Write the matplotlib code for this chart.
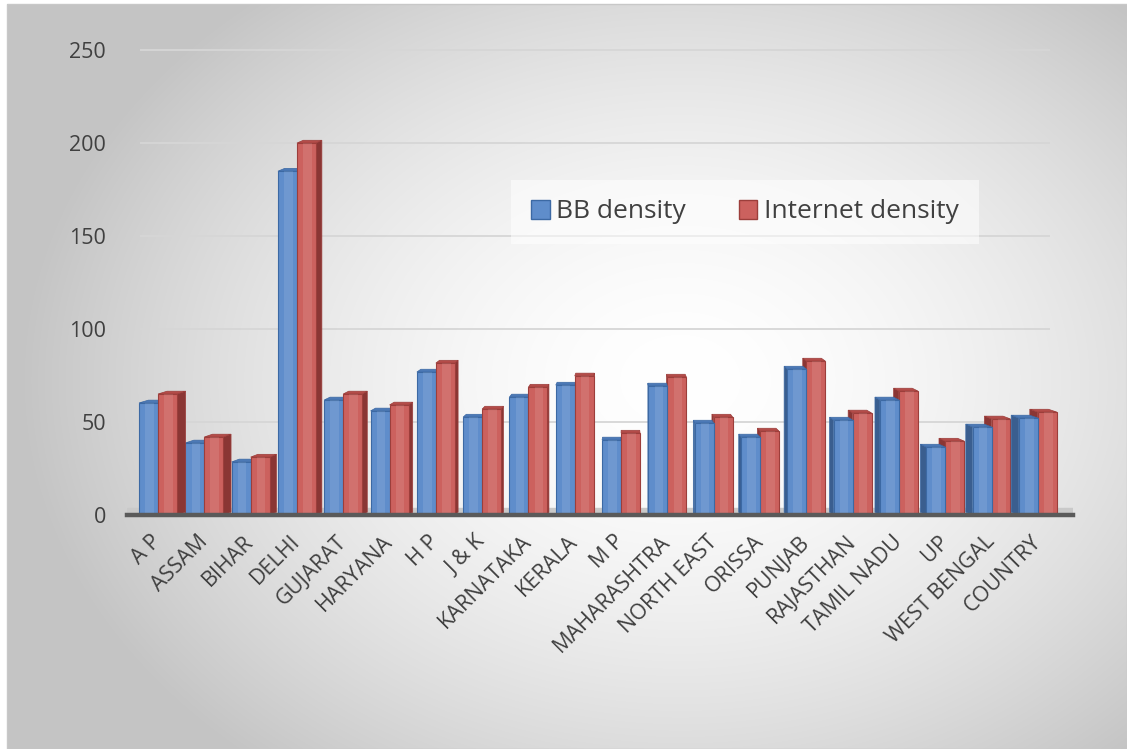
"""
BB density vs Internet density by circle, drawn as Excel-style 3D columns
"""

import numpy as np
import matplotlib.pyplot as plt
from matplotlib.patches import Polygon, Patch, Rectangle

# ---- data ----
STATES = ['A P', 'ASSAM', 'BIHAR', 'DELHI', 'GUJARAT', 'HARYANA', 'H P', 'J & K',
          'KARNATAKA', 'KERALA', 'M P', 'MAHARASHTRA', 'NORTH EAST', 'ORISSA',
          'PUNJAB', 'RAJASTHAN', 'TAMIL NADU', 'UP', 'WEST BENGAL', 'COUNTRY']
BB_DENSITY = [60.2, 38.7, 28.5, 184.7, 61.8, 55.9, 76.8, 52.6, 63.4, 69.8,
              40.3, 69.3, 49.4, 41.9, 78.4, 51.0, 61.8, 36.5, 47.3, 52.1]
INTERNET_DENSITY = [65.0, 41.9, 31.1, 199.8, 65.0, 59.1, 81.6, 56.9, 68.7, 74.7,
                    44.0, 74.1, 52.6, 45.1, 82.7, 54.8, 66.6, 39.7, 51.6, 55.3]
SERIES = ['BB density', 'Internet density']
Y_TICKS = [0, 50, 100, 150, 200, 250]

# ---- style ----
W, H = 1127, 749
TEXT = '#404040'
BLUE = {'face': '#5f8dcb', 'edge': '#3c69a4', 'side': '#3a5e8f', 'top': '#4c79b6'}
RED = {'face': '#cc615e', 'edge': '#9c3e3b', 'side': '#8a3634', 'top': '#b44c49'}

BAR_W = 0.41
VP_X = 10.06        # x of the vanishing point (data units)
PERSP = 0.0193      # how far the back face leans toward the vanishing point
DEPTH_Y = 1.5       # vertical shift of the back face (data units)

plt.rcParams['font.family'] = ['Open Sans', 'DejaVu Sans']


def back(x, y):
    """point on the back face of a column"""
    return (x + PERSP * (VP_X - x), y + DEPTH_Y)


def draw_column(ax, x, h, pal, z):
    ax.bar(x, h, BAR_W, color=pal['face'], edgecolor=pal['edge'],
           linewidth=0.8, zorder=z)
    # lighter band down the middle of the front face
    ax.bar(x + BAR_W * 0.05, h, BAR_W * 0.45, color='white', alpha=0.10,
           linewidth=0, zorder=z + 0.01)
    xl, xr = x - BAR_W / 2, x + BAR_W / 2
    if xr < VP_X:
        side = [(xr, 0), (xr, h), back(xr, h), back(xr, 0)]
    elif xl > VP_X:
        side = [(xl, 0), (xl, h), back(xl, h), back(xl, 0)]
    else:
        side = None
    if side:
        ax.add_patch(Polygon(side, closed=True, facecolor=pal['side'],
                             edgecolor=pal['edge'], linewidth=0.5, zorder=z - 0.02))
    top = [(xl, h), (xr, h), back(xr, h), back(xl, h)]
    ax.add_patch(Polygon(top, closed=True, facecolor=pal['top'],
                         edgecolor=pal['edge'], linewidth=0.5, zorder=z - 0.01))


def background(fig):
    """radial grey-to-white fill behind everything"""
    bg = fig.add_axes([0, 0, 1, 1], zorder=-10)
    yy, xx = np.mgrid[0:H, 0:W]
    r = np.sqrt(((xx - 680) / 660.0) ** 2 + ((yy - 380) / 500.0) ** 2)
    shade = 1 - 0.23 * np.clip(r, 0, 1) ** 1.7
    img = np.dstack([shade] * 3)
    img[:4, :, :] = 1.0
    img[:, :7, :] = 1.0
    bg.imshow(img, extent=(0, W, H, 0), aspect='auto', interpolation='bilinear')
    bg.add_patch(Rectangle((7, 4), W - 7, H - 4, fill=False,
                           edgecolor='#c8c8c8', linewidth=1.0))
    bg.set_xlim(0, W)
    bg.set_ylim(H, 0)
    bg.set_axis_off()


def main():
    fig = plt.figure(figsize=(W / 100, H / 100), dpi=100)
    background(fig)

    ax = fig.add_axes([127 / W, (H - 515) / H, (1073 - 127) / W, (515 - 31) / H])
    ax.set_facecolor('none')
    ax.set_xlim(-0.67, 19.76)
    ax.set_ylim(0, 260)

    # back-wall gridlines
    x0, x1 = (140 - 158) / 46.3, (1050 - 158) / 46.3
    ax.hlines(Y_TICKS[1:], x0, x1, colors='#d6d6d6', linewidth=1.3, zorder=0)

    # floor
    ax.axhspan(0, 4, color='#c9c9c9', zorder=0.5)

    x = np.arange(len(STATES))
    for i in x:
        off = BAR_W / 2
        if i < VP_X:
            draw_column(ax, i - off, BB_DENSITY[i], BLUE, 3)
            draw_column(ax, i + off, INTERNET_DENSITY[i], RED, 4)
        else:
            draw_column(ax, i + off, INTERNET_DENSITY[i], RED, 3)
            draw_column(ax, i - off, BB_DENSITY[i], BLUE, 4)

    ax.axhline(0, color='#5a5a5a', linewidth=3.2, zorder=6, clip_on=False)

    ax.set_yticks(Y_TICKS)
    ax.set_xticks(x)
    ax.set_xticklabels(STATES, rotation=45, ha='right', va='center',
                       rotation_mode='anchor')
    ax.tick_params(axis='y', length=0, pad=15, labelsize=15.5, labelcolor=TEXT)
    ax.tick_params(axis='x', length=0, pad=17, labelsize=15.5, labelcolor=TEXT)
    for s in ax.spines.values():
        s.set_visible(False)

    handles = [Patch(facecolor=BLUE['face'], edgecolor=BLUE['edge']),
               Patch(facecolor=RED['face'], edgecolor=RED['edge'])]
    leg = fig.legend(handles, SERIES, ncol=2, loc='center',
                     bbox_to_anchor=(745 / W, 1 - 212 / H), fontsize=19,
                     frameon=True, fancybox=False, facecolor='white', framealpha=0.55,
                     edgecolor='none', handlelength=0.7, handleheight=0.7,
                     handletextpad=0.25, columnspacing=2.0, borderpad=0.75)
    for t in leg.get_texts():
        t.set_color(TEXT)

    fig.savefig('out.png', dpi=100)
    plt.close(fig)


if __name__ == '__main__':
    main()
